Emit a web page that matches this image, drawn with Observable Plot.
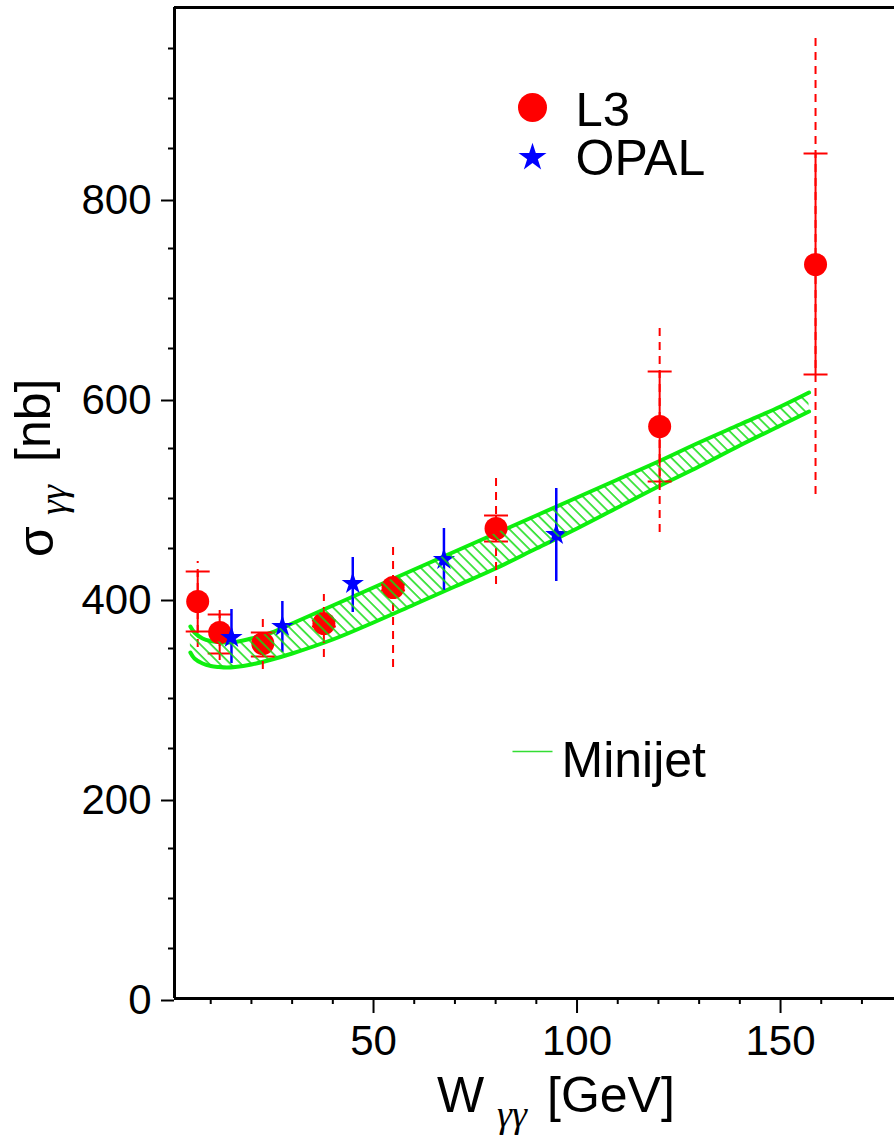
<!DOCTYPE html>
<html>
<head>
<meta charset="utf-8">
<script src="https://cdn.jsdelivr.net/npm/d3@7"></script>
<script src="https://cdn.jsdelivr.net/npm/@observablehq/plot@0.6"></script>
<style>
  html, body { margin: 0; padding: 0; background: white; }
  svg { display: block; }
</style>
</head>
<body>
<div id="chart"></div>
<script>
// ---- L3 data ----
const W_L3      = [6.8, 12.2, 22.8, 37.8, 54.8, 80.1, 120.3, 158.6];
const sigma_L3  = [397, 366, 355, 375, 411, 470, 572, 734];
const statLo_L3 = [367, 345, 342, 372, 408, 457, 517, 624];
const statHi_L3 = [427, 384, 366, 378, 414, 483, 627, 845];
const totLo_L3  = [351, 338, 329, 341, 331, 414, 466, 504];
const totHi_L3  = [437, 390, 379, 404, 453, 524, 674, 964];

// ---- OPAL data ----
const W_OPAL     = [15.1, 27.6, 44.9, 67.3, 94.9];
const sigma_OPAL = [361, 372, 415, 439, 464];
const lo_OPAL    = [335, 346, 386, 408, 417];
const hi_OPAL    = [389, 397, 441, 470, 510];

// ---- Minijet band ----
const W_band     = [5, 6, 8, 10, 12, 14, 16, 20, 25, 30, 40, 50, 60, 70, 80, 90, 100, 110, 120, 130, 140, 150, 157];
const upper_band = [372, 366, 360, 357.5, 356.5, 356, 356.5, 360, 366, 375, 393, 411, 429, 447, 465, 483, 501, 519, 537, 556, 574, 592, 606];
const lower_band = [346, 340, 335, 332.5, 331.5, 331, 331.5, 334, 339, 345, 359, 376, 394, 412, 430, 450, 470, 491, 512, 532, 553, 573, 587];

// ---- ticks ----
const yMajor = [0, 200, 400, 600, 800];
const yMinor = [50, 100, 150, 250, 300, 350, 450, 500, 550, 650, 700, 750, 850, 900, 950];
const xMajor = [50, 100, 150];
const xMinor = [10, 20, 30, 40, 60, 70, 80, 90, 110, 120, 130, 140, 160, 170];

const L3 = W_L3.map((W, i) => ({W, s: sigma_L3[i], sLo: statLo_L3[i], sHi: statHi_L3[i], tLo: totLo_L3[i], tHi: totHi_L3[i]}));
const L3caps = L3.flatMap(d => [{W: d.W, y: d.sLo}, {W: d.W, y: d.sHi}]);
const OPAL = W_OPAL.map((W, i) => ({W, s: sigma_OPAL[i], lo: lo_OPAL[i], hi: hi_OPAL[i]}));
const band = W_band.map((W, i) => ({W, hi: upper_band[i], lo: lower_band[i]}));

const capSymbol = {draw(ctx) { ctx.moveTo(-12, 0); ctx.lineTo(12, 0); }};
const legLine = {draw(ctx) { ctx.moveTo(-20, 0); ctx.lineTo(20, 0); }};

const RED = "#ff0000", BLUE = "#0000ff", GREEN = "#0ef00e";
const FONT = "'Liberation Sans', Arial, sans-serif";
const SERIF = "'Liberation Serif', 'DejaVu Serif', serif";

const plot = Plot.plot({
  width: 894,
  height: 1138,
  marginLeft: 174,
  marginRight: 0,
  marginTop: 7,
  marginBottom: 140,
  style: {fontFamily: FONT, background: "white", color: "black", overflow: "visible"},
  x: {domain: [1.1, 178], label: null},
  y: {domain: [0, 991], label: null},
  marks: [
    // band curves
    Plot.line(band, {x: "W", y: "hi", stroke: GREEN, strokeWidth: 4, curve: "catmull-rom"}),
    Plot.line(band, {x: "W", y: "lo", stroke: GREEN, strokeWidth: 4, curve: "catmull-rom"}),
    // L3 total errors (dashed)
    Plot.ruleX(L3, {x: "W", y1: "tLo", y2: "tHi", stroke: RED, strokeWidth: 2, strokeDasharray: "8,6"}),
    // L3 stat errors (solid)
    Plot.ruleX(L3, {x: "W", y1: "sLo", y2: "sHi", stroke: RED, strokeWidth: 2}),
    Plot.dot(L3caps, {x: "W", y: "y", symbol: capSymbol, stroke: RED, strokeWidth: 2, fill: "none", r: 5}),
    // OPAL errors
    Plot.ruleX(OPAL, {x: "W", y1: "lo", y2: "hi", stroke: BLUE, strokeWidth: 2.5}),
    // points
    Plot.dot(L3, {x: "W", y: "s", r: 11.5, fill: RED}),
    Plot.dot(OPAL, {x: "W", y: "s", r: 7, symbol: "star", fill: BLUE}),
    // hatched band on top
    Plot.areaY(band, {x: "W", y1: "lo", y2: "hi", fill: "url(#hatch)", curve: "catmull-rom"}),
    // frame
    Plot.ruleX([1.1], {stroke: "black", strokeWidth: 3}),
    Plot.ruleY([0, 991], {stroke: "black", strokeWidth: 3}),
    // axes
    Plot.axisY({ticks: yMajor, tickSize: 13, tickPadding: 10, fontSize: 42, strokeWidth: 2, label: null, dy: 2}),
    Plot.axisY({ticks: yMinor, tickSize: 6, tickFormat: () => "", strokeWidth: 2, label: null}),
    Plot.axisX({ticks: xMajor, tickSize: 15, tickPadding: 12, fontSize: 42, strokeWidth: 2, label: null}),
    Plot.axisX({ticks: xMinor, tickSize: 6, tickFormat: () => "", strokeWidth: 2, label: null}),
    // legend
    Plot.dot(["L3"], {frameAnchor: "top-left", dx: 358, dy: 100, r: 14.5, fill: RED}),
    Plot.dot(["OPAL"], {frameAnchor: "top-left", dx: 358, dy: 150, r: 8.8, symbol: "star", fill: BLUE}),
    Plot.dot(["Minijet"], {frameAnchor: "top-left", dx: 358, dy: 744, symbol: legLine, stroke: "#33dd33", strokeWidth: 1.3, fill: "none"}),
    Plot.text(["L3"], {frameAnchor: "top-left", dx: 401, dy: 118, text: d => d, textAnchor: "start", lineAnchor: "bottom", fontSize: 49, fill: "black"}),
    Plot.text(["OPAL"], {frameAnchor: "top-left", dx: 401, dy: 167, text: d => d, textAnchor: "start", lineAnchor: "bottom", fontSize: 50, fill: "black"}),
    Plot.text(["Minijet"], {frameAnchor: "top-left", dx: 387, dy: 769, text: d => d, textAnchor: "start", lineAnchor: "bottom", fontSize: 50, fill: "black"})
  ]
});

// hatch pattern
const svg = d3.select(plot);
const defs = svg.insert("defs", ":first-child");
const pat = defs.append("pattern")
  .attr("id", "hatch")
  .attr("patternUnits", "userSpaceOnUse")
  .attr("width", 7.5).attr("height", 7.5)
  .attr("patternTransform", "rotate(-45)");
pat.append("line").attr("x1", 1).attr("y1", 0).attr("x2", 1).attr("y2", 7.5)
  .attr("stroke", "#11dd11").attr("stroke-width", 1.5);

// axis titles with subscripts
const titles = svg.append("g").attr("fill", "black").attr("text-anchor", "start");
titles.append("text").attr("x", 437).attr("y", 1112).attr("font-size", 50).attr("font-family", FONT).text("W");
titles.append("text").attr("x", 497).attr("y", 1127).attr("font-size", 38).attr("font-family", SERIF).attr("font-style", "italic").text("γγ");
titles.append("text").attr("x", 547).attr("y", 1112).attr("font-size", 50).attr("font-family", FONT).text("[GeV]");

titles.append("text").attr("transform", "translate(53,557) rotate(-90)").attr("font-size", 50).attr("font-family", FONT).text("σ");
titles.append("text").attr("transform", "translate(66,515) rotate(-90)").attr("font-size", 38).attr("font-family", SERIF).attr("font-style", "italic").text("γγ");
titles.append("text").attr("transform", "translate(50,462) rotate(-90)").attr("font-size", 50).attr("font-family", FONT).text("[nb]");

document.getElementById("chart").appendChild(plot);
</script>
</body>
</html>
